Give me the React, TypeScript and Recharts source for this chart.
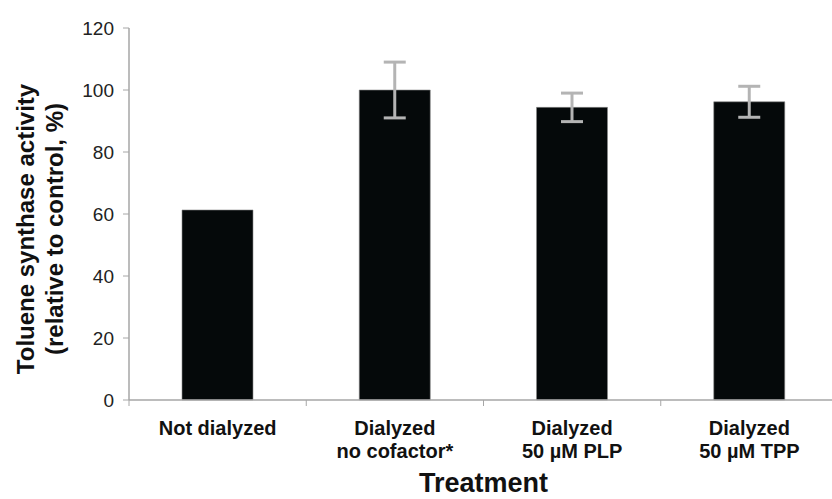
import { BarChart, Bar, XAxis, YAxis, ErrorBar } from 'recharts';

const treatments = [
  ['Not dialyzed'],
  ['Dialyzed', 'no cofactor*'],
  ['Dialyzed', '50 \u00b5M PLP'],
  ['Dialyzed', '50 \u00b5M TPP'],
];
const activity = [61.3, 100, 94.4, 96.2];
const errors = [null, 9, 4.6, 5];
const yTicks = [0, 20, 40, 60, 80, 100, 120];

const data = treatments.map((lines, i) => ({
  name: lines.join(' '),
  lines,
  value: activity[i],
  err: errors[i],
}));

const FONT = '"Liberation Sans", Arial, sans-serif';
// the original plot runs a few pixels past the right edge, so draw wider and clip
const WIDTH = 838;
const HEIGHT = 499;
const LEFT = 129;
const BAND = (WIDTH - LEFT) / treatments.length;
const AXIS_GREY = '#a6a6a6';

// category label plus the tick marks that sit between categories
const renderXTick = (props: any) => {
  const { x, y, payload, index } = props;
  const lines: string[] = data[index]?.lines ?? [payload.value];
  return (
    <g>
      <line x1={x - BAND / 2} x2={x - BAND / 2} y1={y - 8} y2={y - 2} stroke={AXIS_GREY} />
      {lines.map((t, i) => (
        <text
          key={i}
          x={x}
          y={y + 27 + i * 23}
          textAnchor='middle'
          fontFamily={FONT}
          fontWeight='bold'
          fontSize={20}
          fill='#111'
        >
          {t}
        </text>
      ))}
    </g>
  );
};

const renderYLabel = (props: any) => {
  const { viewBox } = props;
  const cy = viewBox.y + viewBox.height / 2 + 15;
  return (
    <g fontFamily={FONT} fontWeight='bold' fontSize={24} fill='#111' textAnchor='middle'>
      <text transform={`translate(34, ${cy}) rotate(-90)`}>Toluene synthase activity</text>
      <text transform={`translate(63, ${cy}) rotate(-90)`}>(relative to control, %)</text>
    </g>
  );
};

export default function App() {
  return (
    <div
      style={{
        position: 'absolute',
        left: 0,
        top: 0,
        width: 832,
        height: HEIGHT,
        overflow: 'hidden',
        background: '#fff',
      }}
    >
      <BarChart
        width={WIDTH}
        height={HEIGHT}
        data={data}
        margin={{ top: 28, right: 0, left: 0, bottom: 0 }}
        barSize={71}
      >
        <XAxis
          dataKey='name'
          height={99}
          interval={0}
          tick={renderXTick}
          tickLine={false}
          axisLine={{ stroke: AXIS_GREY, strokeWidth: 1.5 }}
          label={{
            value: 'Treatment',
            position: 'insideBottom',
            offset: 7,
            fontFamily: FONT,
            fontWeight: 'bold',
            fontSize: 27,
            fill: '#111',
          }}
        />
        <YAxis
          width={LEFT}
          domain={[0, 120]}
          ticks={yTicks}
          interval={0}
          tickSize={6}
          tickMargin={9}
          tickLine={{ stroke: AXIS_GREY }}
          axisLine={{ stroke: AXIS_GREY, strokeWidth: 1.5 }}
          tick={{ fontFamily: FONT, fontSize: 19, fill: '#222' }}
          label={renderYLabel}
        />
        <Bar dataKey='value' fill='#05090a' stroke='#8a8a8a' strokeWidth={0.6} isAnimationActive={false}>
          <ErrorBar dataKey='err' width={11} stroke='#b4b4b4' strokeWidth={3} direction='y' />
        </Bar>
      </BarChart>
    </div>
  );
}
